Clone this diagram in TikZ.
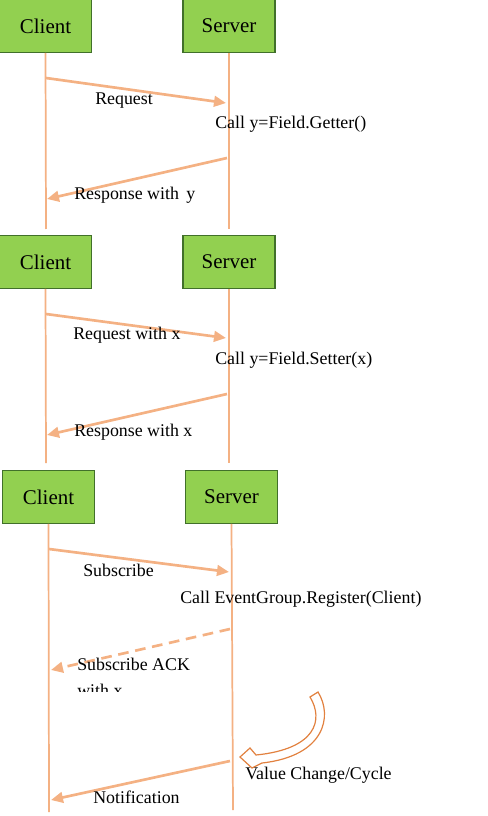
\documentclass[tikz,border=0pt]{standalone}
\usepackage{fontspec}
\setmainfont{Liberation Serif}
\usetikzlibrary{arrows.meta,positioning}
\definecolor{boxgreen}{HTML}{92D050}
\definecolor{boxedge}{HTML}{41702A}
\definecolor{lifeorange}{HTML}{F4B183}
\definecolor{loopred}{HTML}{E2813F}

\begin{document}
\begin{tikzpicture}[
  x=0.75pt, y=-0.75pt,
  party/.style = {draw=boxedge, fill=boxgreen, line width=0.8pt,
                  minimum width=69pt, minimum height=39.5pt, inner sep=0pt,
                  font=\fontsize{15.7}{19}\selectfont},
  life/.style  = {draw=lifeorange, line width=1.3pt},
  msg/.style   = {lifeorange, line width=2pt, -{Triangle[length=9pt, width=8pt]}},
  ack/.style   = {msg, dash pattern=on 8pt off 5pt},
  lbl/.style   = {anchor=base west, inner sep=0pt, font=\fontsize{13.4}{16}\selectfont},
]
\useasboundingbox (0,0) rectangle (487,816);

% ---- getter ----
\node[party] (client1) at (45.5,26) {Client};
\node[party] (server1) at (229,26)  {Server};
\coordinate (cl1end) at (46,229);
\coordinate (sv1end) at (229,229);
\draw[life] (client1.south) -- (cl1end);
\draw[life] (server1.south) -- (sv1end);

\coordinate (req1a) at (46,78);
\coordinate (req1b) at (226,103);
\coordinate (res1a) at (227,158);
\coordinate (res1b) at (47,199);
\draw[msg] (req1a) -- (req1b);
\draw[msg] (res1a) -- (res1b);
\node[lbl] (req1) at (95,105) {Request};
\node[lbl] (get1) at (215,129) {Call y=Field.Getter()};
\node[lbl] (res1) at (74,200) {Response with\, y};

% ---- setter ----
\node[party] (client2) at (45.5,262) {Client};
\node[party] (server2) at (229,262)  {Server};
\coordinate (cl2end) at (46,463);
\coordinate (sv2end) at (229,463);
\draw[life] (client2.south) -- (cl2end);
\draw[life] (server2.south) -- (sv2end);

\coordinate (req2a) at (46,314);
\coordinate (req2b) at (226,338);
\coordinate (res2a) at (227,394);
\coordinate (res2b) at (47,435);
\draw[msg] (req2a) -- (req2b);
\draw[msg] (res2a) -- (res2b);
\node[lbl] (req2) at (73,339) {Request with x};
\node[lbl] (set2) at (215,364) {Call y=Field.Setter(x)};
\node[lbl] (res2) at (74,436) {Response with x};

% ---- event group ----
\node[party] (client3) at (48.5,497) {Client};
\node[party] (server3) at (231.5,497) {Server};
\coordinate (cl3end) at (49,812);
\coordinate (sv3end) at (233,810);
\draw[life] (client3.south) -- (cl3end);
\draw[life] (server3.south) -- (sv3end);

\coordinate (sub3a) at (49,549);
\coordinate (sub3b) at (229,572);
\coordinate (ack3a) at (230,629);
\coordinate (ack3b) at (51,670);
\coordinate (not3a) at (230,761);
\coordinate (not3b) at (51,800);
\draw[msg] (sub3a) -- (sub3b);
\draw[ack] (ack3a) -- (ack3b);
\draw[msg] (not3a) -- (not3b);
\node[lbl] (sub3) at (83,576) {Subscribe};
\node[lbl] (reg3) at (180,603) {Call EventGroup.Register(Client)};
\node[lbl] (ack3) at (77,670) {Subscribe ACK};
\begin{scope}
  \clip (70,678) rectangle (200,691);
  \node[lbl] (ackx3) at (77,696) {with x};
\end{scope}

% value change loop (hollow curved arrow)
\draw[loopred, line width=0.9pt, fill=white, line join=miter]
  (310,697) -- (318,692) .. controls (333,716) and (325,756) .. (262,763)
  -- (252,768) -- (240,757) -- (250,748) -- (256,755)
  .. controls (316,749) and (324,720) .. (310,697) -- cycle;
\node[lbl] (val3) at (245,779) {Value Change/Cycle};
\node[lbl] (not3) at (93,803) {Notification};

\end{tikzpicture}
\end{document}
